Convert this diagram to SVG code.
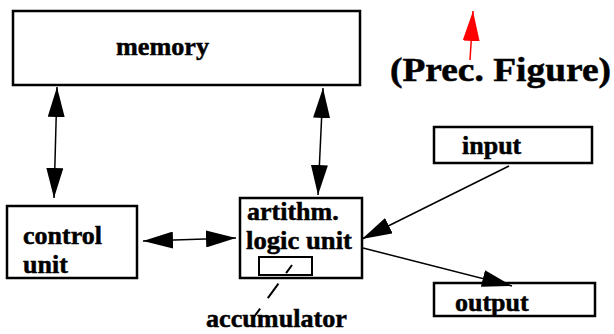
<svg xmlns="http://www.w3.org/2000/svg" width="614" height="334" viewBox="0 0 614 334">
  <style>
    .box { fill: #ffffff; stroke: #000000; stroke-width: 2.5; }
    .small { fill: none; stroke: #000000; stroke-width: 2; }
    .lbl { font-family: "Liberation Serif", "Times New Roman", serif; font-weight: bold; font-size: 26px; fill: #000000; stroke: #000000; stroke-width: 0.5; }
    .con { fill: none; stroke: #000000; stroke-width: 1.5; }
    .red { fill: none; stroke: #ff0000; stroke-width: 1.5; }
  </style>
  <defs>
    <marker id="ah" markerUnits="userSpaceOnUse" markerWidth="30" markerHeight="17" refX="30" refY="8.5" orient="auto-start-reverse">
      <path d="M0,0 L30,8.5 L0,17 Z" fill="#000000"/>
    </marker>
    <marker id="ahr" markerUnits="userSpaceOnUse" markerWidth="30" markerHeight="17" refX="30" refY="8.5" orient="auto">
      <path d="M0,0 L30,8.5 L0,17 Z" fill="#ff0000"/>
    </marker>
  </defs>

  <g id="memory">
    <rect class="box" x="13" y="11" width="347" height="74"/>
    <text class="lbl" x="116" y="55" textLength="93" lengthAdjust="spacingAndGlyphs">memory</text>
  </g>

  <g id="prec-figure">
    <text class="lbl" x="390" y="81" style="font-size:33px" textLength="221" lengthAdjust="spacingAndGlyphs">(Prec. Figure)</text>
  </g>

  <g id="control-unit">
    <rect class="box" x="7" y="206" width="130" height="72"/>
    <text class="lbl" x="23" y="244">control</text>
    <text class="lbl" x="23" y="273">unit</text>
  </g>

  <g id="alu">
    <rect class="box" x="240" y="198" width="122" height="80"/>
    <text class="lbl" x="247" y="220">artithm.</text>
    <text class="lbl" x="246" y="249" textLength="106" lengthAdjust="spacingAndGlyphs">logic unit</text>
    <rect class="small" x="259" y="257" width="53" height="18"/>
  </g>

  <g id="input">
    <rect class="box" x="434" y="127" width="158" height="36"/>
    <text class="lbl" x="462" y="154">input</text>
  </g>

  <g id="output">
    <rect class="box" x="434" y="283" width="161" height="33"/>
    <text class="lbl" x="455" y="311">output</text>
  </g>

  <g id="accumulator">
    <text class="lbl" x="206" y="327" textLength="141" lengthAdjust="spacingAndGlyphs">accumulator</text>
  </g>

  <g id="connectors">
    <line class="red" x1="470" y1="60" x2="473" y2="11" marker-end="url(#ahr)"/>
    <line class="con" x1="57" y1="87" x2="54" y2="198" marker-start="url(#ah)" marker-end="url(#ah)"/>
    <line class="con" x1="323" y1="88" x2="318" y2="195" marker-start="url(#ah)" marker-end="url(#ah)"/>
    <line class="con" x1="143" y1="241" x2="236" y2="238" marker-start="url(#ah)" marker-end="url(#ah)"/>
    <line class="con" x1="509" y1="166" x2="362" y2="239" marker-end="url(#ah)"/>
    <line class="con" x1="363" y1="248" x2="512" y2="286" marker-end="url(#ah)"/>
    <line x1="292" y1="265" x2="254" y2="317" stroke="#000000" stroke-width="2" stroke-dasharray="10 13 18 13 12"/>
  </g>
</svg>
